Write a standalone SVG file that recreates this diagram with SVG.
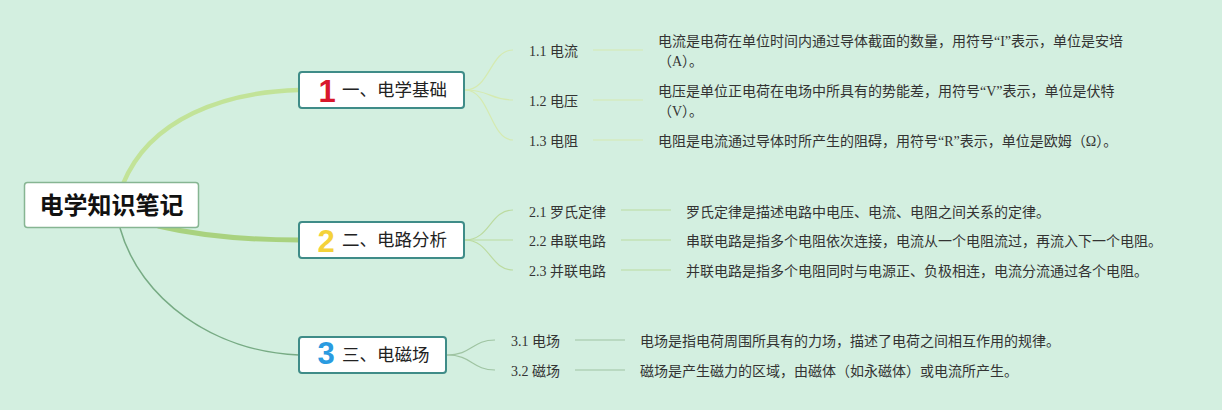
<svg xmlns="http://www.w3.org/2000/svg" width="1222" height="410" viewBox="0 0 1222 410">
<defs>
<style>
.bg{fill:#d3efe0}
.node{fill:#ffffff;stroke:#3f8c88;stroke-width:2}
.root{fill:#ffffff;stroke:#86b592;stroke-width:1.5}
.rt{font-family:"Noto Sans CJK SC",sans-serif;font-weight:bold;font-size:24px;fill:#111}
.nt{font-family:"Noto Sans CJK SC",sans-serif;font-size:17.5px;fill:#222}
.num{font-family:"Liberation Sans","DejaVu Sans",sans-serif;font-weight:bold;font-size:31px}
.lb{font-family:"Liberation Serif","Noto Sans CJK SC",serif;font-size:14px;fill:#333}
.c1{fill:none;stroke:#d5eab0;stroke-width:1.2}
.c2{fill:none;stroke:#bcdba0;stroke-width:1.2}
.c3{fill:none;stroke:#9fc4a2;stroke-width:1.2}
</style>
</defs>
<rect class="bg" x="0" y="0" width="1222" height="410"/>
<g id="connectors">
<path d="M123,184 C150,118 225,92 299,90" fill="none" stroke="#c2e398" stroke-width="4.5"/>
<path d="M158,226 C205,237 250,240 299,240" fill="none" stroke="#a9d27f" stroke-width="5"/>
<path d="M120,228 C140,300 215,352 299,355" fill="none" stroke="#77ab84" stroke-width="1.5"/>
<path class="c1" d="M465,90 C490,90 490,50 513,50"/>
<path class="c1" d="M465,90 C490,90 490,100 513,100"/>
<path class="c1" d="M465,90 C490,90 490,140 513,140"/>
<path class="c1" d="M593,50 H643 M593,100 H643 M593,140 H643"/>
<path class="c2" d="M465,240 C490,240 490,210 513,210"/>
<path class="c2" d="M465,240 H513"/>
<path class="c2" d="M465,240 C490,240 490,270 513,270"/>
<path class="c2" d="M621,210 H671 M621,240 H671 M621,270 H671"/>
<path class="c3" d="M447,355 C472,355 472,340 495,340"/>
<path class="c3" d="M447,355 C472,355 472,370 495,370"/>
<path class="c3" d="M575,340 H625 M575,370 H625"/>
</g>
<g id="root">
<rect class="root" x="24.5" y="182.5" width="174" height="45" rx="3"/>
<text class="rt" x="111.5" y="214" text-anchor="middle">电学知识笔记</text>
</g>
<g id="n1">
<rect class="node" x="299" y="72" width="165" height="36" rx="3"/>
<text class="num" x="327" y="102" text-anchor="middle" fill="#d8172b">1</text>
<text class="nt" x="342" y="96">一、电学基础</text>
</g>
<g id="n2">
<rect class="node" x="299" y="222" width="165" height="36" rx="3"/>
<text class="num" x="326" y="252" text-anchor="middle" fill="#f4d23a">2</text>
<text class="nt" x="342" y="246">二、电路分析</text>
</g>
<g id="n3">
<rect class="node" x="299" y="337" width="147" height="36" rx="3"/>
<text class="num" x="326" y="364" text-anchor="middle" fill="#2a9be0">3</text>
<text class="nt" x="342" y="361">三、电磁场</text>
</g>
<g id="n11"><text class="lb" x="529" y="56">1.1 电流</text></g>
<g id="d11"><text class="lb" x="658" y="46">电流是电荷在单位时间内通过导体截面的数量，用符号“I”表示，单位是安培</text><text class="lb" x="658" y="66">（A）。</text></g>
<g id="n12"><text class="lb" x="529" y="106">1.2 电压</text></g>
<g id="d12"><text class="lb" x="658" y="96">电压是单位正电荷在电场中所具有的势能差，用符号“V”表示，单位是伏特</text><text class="lb" x="658" y="116">（V）。</text></g>
<g id="n13"><text class="lb" x="529" y="146">1.3 电阻</text></g>
<g id="d13"><text class="lb" x="658" y="146">电阻是电流通过导体时所产生的阻碍，用符号“R”表示，单位是欧姆（Ω）。</text></g>
<g id="n21"><text class="lb" x="529" y="217">2.1 罗氏定律</text></g>
<g id="d21"><text class="lb" x="686" y="217">罗氏定律是描述电路中电压、电流、电阻之间关系的定律。</text></g>
<g id="n22"><text class="lb" x="529" y="246">2.2 串联电路</text></g>
<g id="d22"><text class="lb" x="686" y="246">串联电路是指多个电阻依次连接，电流从一个电阻流过，再流入下一个电阻。</text></g>
<g id="n23"><text class="lb" x="529" y="276">2.3 并联电路</text></g>
<g id="d23"><text class="lb" x="686" y="276">并联电路是指多个电阻同时与电源正、负极相连，电流分流通过各个电阻。</text></g>
<g id="n31"><text class="lb" x="511" y="346">3.1 电场</text></g>
<g id="d31"><text class="lb" x="640" y="346">电场是指电荷周围所具有的力场，描述了电荷之间相互作用的规律。</text></g>
<g id="n32"><text class="lb" x="511" y="376">3.2 磁场</text></g>
<g id="d32"><text class="lb" x="640" y="376">磁场是产生磁力的区域，由磁体（如永磁体）或电流所产生。</text></g>
</svg>
